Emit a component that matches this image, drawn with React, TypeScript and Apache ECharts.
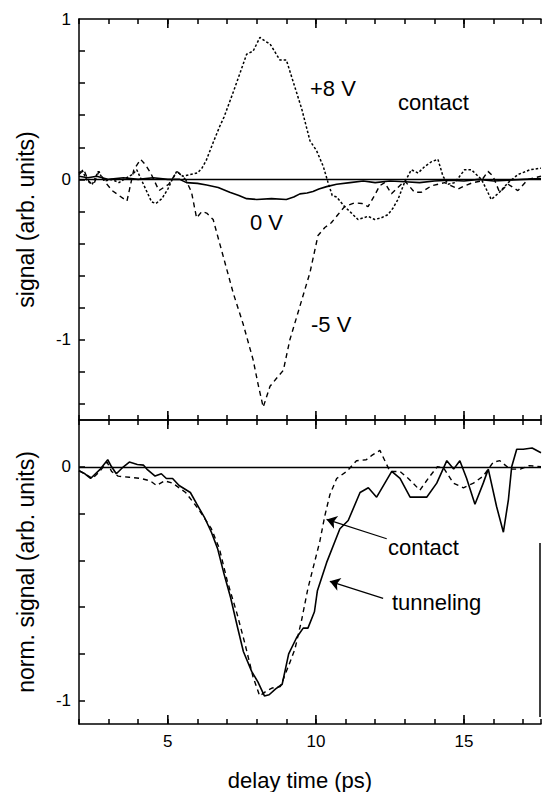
import React, { useEffect, useRef } from "react";
import * as echarts from "echarts";

// ---------- axis ranges & ticks ----------
const X_MIN = 2;
const X_MAX = 17.6;
const TOP_MIN = -1.5;
const TOP_MAX = 1;
const BOT_MIN = -1.1;
const BOT_MAX = 0.2;

const xTickInterval = 1;
const xMajorValues = [5, 10, 15];
const topYTickValues = [-1.4, -1.2, -1.0, -0.8, -0.6, -0.4, -0.2, 0, 0.2, 0.4, 0.6, 0.8];
const topYLabelValues = [-1, 0, 1];
const botYTickValues = [-1.0, -0.8, -0.6, -0.4, -0.2, 0];
const botYLabelValues = [-1, 0];

// ---------- top panel: contact, bias dependent ----------
const plus8V: [number, number][] = [
  [2.0, 0.04], [2.1, 0.06], [2.25, 0.0], [2.45, -0.03], [2.65, 0.05], [2.85, -0.01], [3.1, 0.0],
  [3.35, -0.02], [3.6, 0.01], [3.8, 0.03], [3.95, 0.06], [4.1, 0.0], [4.25, -0.06], [4.45, -0.14],
  [4.6, -0.15], [4.8, -0.12], [5.0, -0.06], [5.15, 0.0], [5.3, 0.05], [5.5, 0.02], [5.75, 0.03],
  [6.0, 0.04], [6.15, 0.07], [6.3, 0.12], [6.53, 0.23], [6.75, 0.33], [6.9, 0.39], [7.2, 0.54],
  [7.45, 0.67], [7.66, 0.78], [7.88, 0.8], [8.11, 0.885], [8.3, 0.86], [8.45, 0.845], [8.78, 0.745],
  [9.0, 0.745], [9.23, 0.61], [9.52, 0.44], [9.8, 0.24], [10.02, 0.18], [10.25, 0.08], [10.41, -0.02],
  [10.55, -0.1], [10.7, -0.11], [10.97, -0.17], [11.2, -0.21], [11.42, -0.25], [11.6, -0.24],
  [11.76, -0.23], [11.98, -0.25], [12.2, -0.24], [12.43, -0.22], [12.6, -0.18], [12.77, -0.125],
  [12.99, -0.02], [13.22, 0.06], [13.45, 0.04], [13.67, 0.08], [13.9, 0.11], [14.12, 0.125],
  [14.29, 0.02], [14.46, -0.03], [14.69, -0.02], [15.02, 0.06], [15.25, 0.06], [15.59, 0.0],
  [15.75, -0.06], [15.92, -0.125], [16.2, -0.08], [16.49, -0.02], [16.82, 0.03], [17.23, 0.06],
  [17.6, 0.07],
];

const zeroV: [number, number][] = [
  [2.0, 0.02], [2.3, 0.01], [2.6, 0.02], [3.0, 0.0], [3.5, 0.01], [4.0, 0.0], [4.5, 0.01], [5.0, 0.0],
  [5.4, 0.0], [5.63, -0.02], [6.0, -0.025], [6.31, -0.035], [6.7, -0.05], [7.09, -0.08], [7.4, -0.1],
  [7.66, -0.12], [8.0, -0.125], [8.5, -0.12], [9.0, -0.125], [9.25, -0.11], [9.46, -0.09], [9.7, -0.085],
  [9.9, -0.075], [10.1, -0.06], [10.36, -0.045], [10.7, -0.03], [11.15, -0.02], [11.6, -0.01],
  [12.0, -0.02], [12.5, -0.01], [13.0, -0.015], [13.5, -0.02], [14.0, -0.01], [14.5, -0.005],
  [15.0, -0.01], [15.5, 0.0], [16.0, -0.01], [16.5, -0.005], [17.0, 0.0], [17.6, 0.005],
];

const minus5V: [number, number][] = [
  [2.0, 0.03], [2.16, 0.06], [2.35, -0.02], [2.5, -0.03], [2.67, 0.05], [2.9, -0.02], [3.12, -0.07],
  [3.35, -0.1], [3.62, -0.135], [3.85, 0.06], [4.08, 0.125], [4.25, 0.09], [4.42, 0.04], [4.7, -0.07],
  [5.03, -0.03], [5.31, 0.05], [5.6, 0.0], [5.8, -0.08], [5.97, -0.24], [6.15, -0.2], [6.31, -0.21],
  [6.53, -0.25], [6.87, -0.48], [7.21, -0.71], [7.54, -0.9], [7.88, -1.125], [8.05, -1.28],
  [8.22, -1.42], [8.45, -1.29], [8.67, -1.24], [8.9, -1.19], [9.12, -1.0], [9.46, -0.79], [9.8, -0.58],
  [10.07, -0.35], [10.3, -0.3], [10.52, -0.27], [10.74, -0.22], [10.97, -0.17], [11.31, -0.146],
  [11.55, -0.15], [11.76, -0.17], [11.98, -0.1], [12.15, -0.04], [12.32, -0.02], [12.55, -0.09],
  [12.83, -0.04], [13.0, -0.01], [13.33, -0.08], [13.56, -0.08], [13.9, -0.04], [14.35, -0.02],
  [14.8, -0.06], [15.02, -0.04], [15.3, -0.02], [15.58, -0.01], [15.81, 0.05], [15.98, 0.02],
  [16.2, -0.08], [16.49, -0.03], [16.82, -0.07], [17.16, 0.0], [17.6, 0.02],
];

// ---------- bottom panel: normalized ----------
const tunneling: [number, number][] = [
  [2.0, -0.017], [2.2, -0.03], [2.39, -0.05], [2.72, -0.01], [2.97, 0.03], [3.1, 0.0], [3.26, -0.03],
  [3.5, 0.0], [3.7, 0.02], [3.97, 0.01], [4.18, 0.007], [4.29, -0.01], [4.57, -0.04], [4.78, -0.03],
  [4.95, -0.05], [5.16, -0.05], [5.38, -0.08], [5.76, -0.11], [5.98, -0.16], [6.25, -0.22],
  [6.47, -0.28], [6.68, -0.35], [6.9, -0.46], [7.12, -0.56], [7.34, -0.68], [7.55, -0.79],
  [7.83, -0.875], [8.04, -0.92], [8.26, -0.98], [8.42, -0.975], [8.64, -0.95], [8.86, -0.93],
  [9.08, -0.8], [9.35, -0.73], [9.57, -0.69], [9.73, -0.69], [9.95, -0.62], [10.05, -0.53],
  [10.36, -0.41], [10.81, -0.265], [11.09, -0.23], [11.49, -0.11], [11.77, -0.09], [12.05, -0.13],
  [12.56, -0.02], [12.84, -0.05], [13.18, -0.13], [13.74, -0.13], [14.08, -0.07], [14.42, 0.026],
  [14.65, -0.01], [14.86, 0.026], [15.09, -0.05], [15.37, -0.16], [15.65, -0.07], [15.82, -0.01],
  [16.1, -0.17], [16.33, -0.28], [16.5, -0.14], [16.61, 0.0], [16.78, 0.075], [17.0, 0.075],
  [17.3, 0.08], [17.6, 0.06],
];

const contact: [number, number][] = [
  [2.0, -0.017], [2.2, -0.03], [2.45, -0.05], [2.7, -0.02], [2.95, 0.02], [3.1, -0.02], [3.32, -0.04],
  [3.7, -0.045], [4.08, -0.05], [4.4, -0.06], [4.62, -0.08], [4.89, -0.06], [5.16, -0.07], [5.6, -0.11],
  [6.03, -0.18], [6.47, -0.265], [6.74, -0.35], [7.01, -0.49], [7.34, -0.63], [7.61, -0.76],
  [7.88, -0.9], [8.1, -0.98], [8.32, -0.96], [8.53, -0.946], [8.8, -0.94], [9.08, -0.85],
  [9.29, -0.78], [9.51, -0.66], [9.73, -0.52], [9.95, -0.41], [10.13, -0.32], [10.3, -0.21],
  [10.47, -0.12], [10.7, -0.05], [11.04, -0.02], [11.37, 0.026], [11.7, 0.03], [11.9, 0.05],
  [12.16, 0.07], [12.5, -0.02], [12.84, -0.02], [13.12, -0.05], [13.51, -0.1], [13.85, -0.04],
  [14.1, 0.0], [14.31, -0.005], [14.64, -0.07], [14.98, -0.09], [15.32, -0.07], [15.65, -0.04],
  [15.99, 0.02], [16.21, 0.026], [16.55, -0.01], [16.9, -0.01], [17.2, 0.005], [17.6, 0.0],
];

// arrows (tail -> head) in data coordinates of the bottom panel
const contactArrow: [number, number][] = [[12.39, -0.308], [10.36, -0.225]];
const tunnelingArrow: [number, number][] = [[12.27, -0.563], [10.47, -0.49]];

const FONT = "'Liberation Sans', Arial, Helvetica, sans-serif";
const INK = "#000";

function annotation(x: number, y: number, text: string) {
  return {
    type: "text",
    style: { x, y, text, fontSize: 22, fontFamily: FONT, fill: INK, verticalAlign: "middle" },
  };
}

const zeroLine = {
  silent: true,
  symbol: "none",
  label: { show: false },
  lineStyle: { color: INK, width: 1.4, type: "solid" },
  data: [{ yAxis: 0 }],
};

function buildOption(): any {
  const axisLine = { show: true, onZero: false, lineStyle: { color: INK, width: 1.5 } };
  const labelStyle = { color: INK, fontSize: 17, fontFamily: FONT };
  const nameStyle = { color: INK, fontSize: 22, fontFamily: FONT };

  const xBase = (gridIndex: number, position: string) => ({
    type: "value",
    gridIndex,
    position,
    min: X_MIN,
    max: X_MAX,
    interval: xTickInterval,
    axisLine,
    axisTick: { show: true, inside: true, length: 5, lineStyle: { color: INK, width: 1.5 } },
    axisLabel: { show: false },
    splitLine: { show: false },
  });
  const yTick = (values: number[]) => ({
    show: true,
    inside: true,
    length: 6,
    customValues: values,
    lineStyle: { color: INK, width: 1.5 },
  });

  const lineSeries = (name: string, data: [number, number][], xi: number, yi: number, type: any, width: number) => ({
    name,
    type: "line",
    xAxisIndex: xi,
    yAxisIndex: yi,
    data,
    symbol: "none",
    silent: true,
    lineStyle: { color: INK, width, type },
  });

  return {
    animation: false,
    grid: [
      { left: 79, top: 19, width: 462, height: 401 },
      { left: 79, top: 420, width: 462, height: 306 },
    ],
    xAxis: [
      xBase(0, "top"),
      xBase(0, "bottom"),
      {
        ...xBase(1, "bottom"),
        axisLabel: { ...labelStyle, show: true, margin: 9, customValues: xMajorValues },
        name: "delay time (ps)",
        nameLocation: "middle",
        nameGap: 45,
        nameTextStyle: { ...nameStyle, padding: [0, 20, 0, 0] },
      },
      xBase(1, "top"),
    ],
    yAxis: [
      {
        type: "value",
        gridIndex: 0,
        min: TOP_MIN,
        max: TOP_MAX,
        axisLine,
        axisTick: yTick(topYTickValues),
        splitLine: { show: false },
        axisLabel: { ...labelStyle, margin: 8, customValues: topYLabelValues },
        name: "signal (arb. units)",
        nameLocation: "middle",
        nameGap: 42,
        nameTextStyle: { ...nameStyle, fontSize: 23 },
      },
      {
        type: "value",
        gridIndex: 1,
        min: BOT_MIN,
        max: BOT_MAX,
        axisLine,
        axisTick: yTick(botYTickValues),
        splitLine: { show: false },
        axisLabel: { ...labelStyle, margin: 8, customValues: botYLabelValues },
        name: "norm. signal (arb. units)",
        nameLocation: "middle",
        nameGap: 42,
        nameTextStyle: { ...nameStyle, fontSize: 23 },
      },
    ],
    series: [
      { ...lineSeries("0 V", zeroV, 0, 0, "solid", 1.6), markLine: zeroLine },
      lineSeries("+8 V", plus8V, 0, 0, [2.5, 2], 1.5),
      lineSeries("-5 V", minus5V, 0, 0, [5, 4], 1.4),
      { ...lineSeries("tunneling", tunneling, 2, 1, "solid", 1.6), markLine: zeroLine },
      {
        ...lineSeries("contact", contact, 2, 1, [5, 4], 1.4),
        markLine: {
          silent: true,
          symbol: ["none", "arrow"],
          symbolSize: 10,
          label: { show: false },
          lineStyle: { color: INK, width: 1.2, type: "solid" },
          data: [
            [{ coord: contactArrow[0] }, { coord: contactArrow[1] }],
            [{ coord: tunnelingArrow[0] }, { coord: tunnelingArrow[1] }],
          ],
        },
      },
    ],
  };
}

function buildGraphics(chart: any): any[] {
  const els: any[] = [];
  // longer major ticks at 5, 10, 15 on every horizontal edge (positions from the axis scale)
  const edges: [number, number, number][] = [
    [0, TOP_MAX, 1],
    [0, TOP_MIN, -1],
    [1, BOT_MAX, 1],
    [1, BOT_MIN, -1],
  ];
  edges.forEach(([gridIndex, yEdge, dir]) => {
    xMajorValues.forEach((v) => {
      const p = chart.convertToPixel({ gridIndex }, [v, yEdge]) as number[];
      if (p) {
        els.push({
          type: "line",
          shape: { x1: p[0], y1: p[1], x2: p[0], y2: p[1] + dir * 9 },
          style: { stroke: INK, lineWidth: 1.6 },
        });
      }
    });
  });

  els.push(annotation(310, 88, "+8 V"));
  els.push(annotation(398, 102, "contact"));
  els.push(annotation(250, 222, "0 V"));
  els.push(annotation(311, 324, "-5 V"));
  els.push(annotation(388, 547, "contact"));
  els.push(annotation(392, 602, "tunneling"));
  els.push({ type: "line", shape: { x1: 540, y1: 543, x2: 540, y2: 717 }, style: { stroke: INK, lineWidth: 1.5 } });
  return els;
}

export default function App() {
  const ref = useRef<HTMLDivElement>(null);
  useEffect(() => {
    document.body.style.margin = "0";
    const chart = echarts.init(ref.current as HTMLDivElement, null, { renderer: "svg" });
    chart.setOption(buildOption());
    chart.setOption({ graphic: buildGraphics(chart) });
    return () => chart.dispose();
  }, []);
  return <div ref={ref} style={{ width: 542, height: 792 }} />;
}
